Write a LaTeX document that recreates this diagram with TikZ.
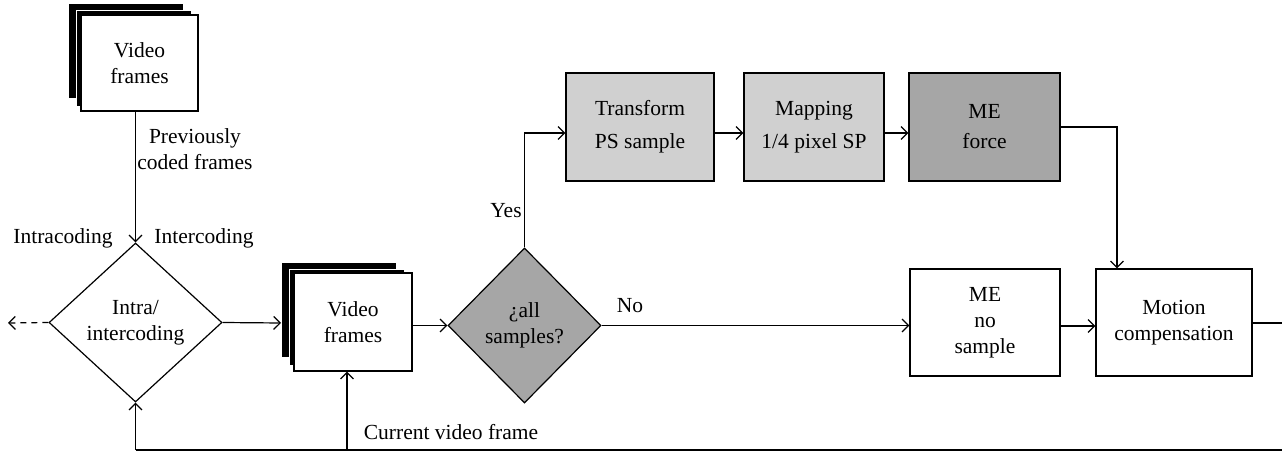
\documentclass[tikz,border=0pt]{standalone}
\usepackage{fontspec}
\setmainfont{Liberation Serif}
\usetikzlibrary{arrows.meta,shapes.geometric,calc}
\definecolor{lightg}{RGB}{208,208,208}
\definecolor{darkg}{RGB}{166,166,166}
\begin{document}
\begin{tikzpicture}[x=1pt,y=-1pt,
  every node/.style={font=\fontsize{21.5}{26}\selectfont, align=center, inner sep=0pt},
  box/.style={draw, line width=1.2pt, rectangle},
  dia/.style={draw, line width=1.2pt, diamond},
  layer/.style={fill=black, draw=white, line width=0.8pt},
  conn/.style={line width=1.2pt, -{Straight Barb[length=6.5pt,width=13pt,line width=1.2pt]}},
  plain/.style={line width=1.2pt},
  lbl/.style={}]
\useasboundingbox (0,0) rectangle (1282,454);
% top stack
\fill[layer] (68,3) rectangle (183,98);
\fill[layer] (76,10) rectangle (191,106);
\node[box, fill=white, minimum width=117, minimum height=96] (vf1) at (139.5,63) {Video\\frames};
% diamond 1
\node[dia, minimum width=173, minimum height=159] (d1) at (135.5,322.5) {Intra/\\intercoding};
% second stack
\fill[layer] (281,262) rectangle (396,357);
\fill[layer] (289,269) rectangle (404,365);
\node[box, fill=white, minimum width=118, minimum height=98] (vf2) at (353,322) {Video\\frames};
\coordinate (vf2in) at (281,323);
% diamond 2
\node[dia, fill=darkg, minimum width=153, minimum height=155] (d2) at (524.5,325.5) {¿all\\samples?};
% top row
\node[box, fill=lightg, minimum width=148, minimum height=108, font=\fontsize{21.5}{33}\selectfont] (tr) at (640,127) {Transform\\PS sample};
\node[box, fill=lightg, minimum width=140, minimum height=108, font=\fontsize{21.5}{33}\selectfont] (mp) at (814,127) {Mapping\\1/4 pixel SP};
\node[box, fill=darkg, minimum width=151, minimum height=108, font=\fontsize{21.5}{30}\selectfont] (mf) at (984.5,127) {ME\\force};
% bottom row
\node[box, minimum width=150, minimum height=107] (mn) at (985,322.5) {ME\\no\\sample};
\node[box, minimum width=156, minimum height=107] (mc) at (1174,322.5) {Motion\\compensation};
% coordinates
\coordinate (bl) at (135.5,450);
\coordinate (cv) at (347,450);
\coordinate (br) at (1282,450);
\coordinate (ro) at (1282,323);
\coordinate (dl) at (8,323);
\coordinate (ycorner) at (524.5,133);
\coordinate (fcorner) at (1117,127);
% connectors
\draw[conn] (d1.north |- vf1.south) -- (d1.north);
\draw[line width=1.2pt, dash pattern=on 6pt off 5pt, -{Straight Barb[length=6.5pt,width=13pt,line width=1.2pt]}] (d1.west) -- (dl);
\draw[conn] (d1.east) -- (vf2in);
\draw[conn] (vf2.east |- d2.west) -- (d2.west);
\draw[conn] (d2.north) -- (ycorner) -- (tr.west |- ycorner);
\draw[conn] (tr.east |- ycorner) -- (mp.west |- ycorner);
\draw[conn] (mp.east |- ycorner) -- (mf.west |- ycorner);
\draw[conn] (mf.east) -- (fcorner) -- (fcorner |- mc.north);
\draw[conn] (d2.east) -- (mn.west |- d2.east);
\draw[conn] (mn.east |- 0,326) -- (mc.west |- 0,326);
\draw[plain] (mc.east |- ro) -- (ro);
\draw[plain] (br) -- (bl);
\draw[conn] (bl) -- (d1.south);
\draw[conn] (cv) -- (cv |- vf2.south);
% labels
\node[lbl] (lprev) at (195,149) {Previously\\coded frames};
\node[lbl] (lintra) at (63,238) {Intracoding};
\node[lbl] (linter) at (204,238) {Intercoding};
\node[lbl] (lyes) at (506,211) {Yes};
\node[lbl] (lno) at (630,306) {No};
\node[lbl] (lcur) at (451,432) {Current video frame};
\end{tikzpicture}
\end{document}
